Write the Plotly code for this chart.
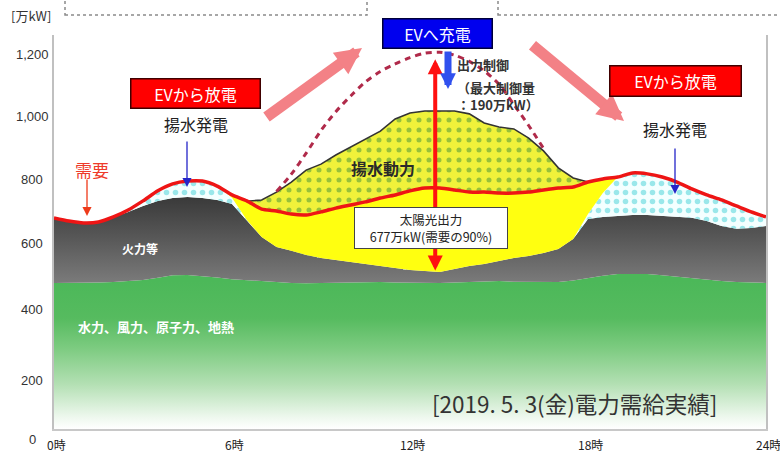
import plotly.graph_objects as go

# ---- data (万kW), half-hourly 0:00 - 24:00 ----
hours = [h / 2 for h in range(49)]

base = [465, 465, 465, 466, 468, 471, 474, 481, 489, 490, 487, 482, 477, 474,
        471, 467, 465, 464, 465, 466, 468, 468, 468, 466, 465, 464, 465, 466,
        468, 470, 471, 469, 468, 467, 468, 473, 481, 488, 493, 494, 493, 489,
        484, 479, 474, 471, 468, 466, 465]

thermal = [207, 197, 191, 193, 207, 220, 236, 245, 246, 248, 248, 247, 239, 191,
           140, 112, 102, 90, 79, 72, 64, 57, 51, 46, 41, 39, 35, 43,
           51, 55, 64, 75, 83, 93, 105, 132, 187, 187, 185, 187, 188, 189,
           191, 193, 188, 175, 169, 174, 181]

pumped_gen = [0, 0, 0, 0, 0, 6, 16, 32, 45, 51, 54, 45, 20, 0,
              0, 0, 0, 0, 0, 0, 0, 0, 0, 0, 0, 0, 0, 0,
              0, 0, 0, 0, 0, 0, 0, 0, 16, 76, 124, 134, 131, 124,
              111, 92, 83, 83, 73, 51, 29]

solar = [0, 0, 0, 0, 0, 0, 0, 0, 0, 0, 0, 0, 9, 60,
         118, 175, 219, 270, 299, 334, 365, 398, 429, 475, 500, 509, 512, 503,
         484, 449, 426, 411, 375, 325, 258, 194, 102, 45, 0, 0, 0, 0,
         0, 0, 0, 0, 0, 0, 0]

curtailment = [0, 0, 0, 0, 0, 0, 0, 0, 0, 0, 0, 0, 0, 0,
               0, 2, 25, 54, 107, 138, 163, 182, 190, 175, 176, 184, 187, 178,
               167, 166, 136, 78, 40, 8, 0, 0, 0, 0, 0, 0, 0, 0,
               0, 0, 0, 0, 0, 0, 0]

demand = [672, 662, 656, 659, 675, 697, 726, 758, 780, 789, 789, 773, 745, 726,
          700, 694, 684, 681, 691, 703, 713, 723, 735, 745, 758, 767, 767, 761,
          754, 754, 751, 751, 754, 761, 767, 770, 786, 796, 802, 815, 812, 802,
          786, 764, 745, 729, 710, 691, 675]

x_ticks = [0, 6, 12, 18, 24]
x_labels = ["0時", "6時", "12時", "18時", "24時"]
y_ticks = [0, 200, 400, 600, 800, 1000, 1200]
y_labels = ["0", "200", "400", "600", "800", "1,000", "1,200"]

solar_peak_output = 677      # 太陽光出力 (万kW)
solar_peak_hour = 12.85

# ---- stacked boundaries ----
top_base = base
top_thermal = [b + t for b, t in zip(base, thermal)]
top_pumpgen = [a + p for a, p in zip(top_thermal, pumped_gen)]
top_supply = [a + s for a, s in zip(top_pumpgen, solar)]
pump_top = [max(s, d) for s, d in zip(top_supply, demand)]
potential = [s + c if c > 0 else None for s, c in zip(top_supply, curtailment)]
surplus = [s - d > 2 for s, d in zip(top_supply, demand)]
n = len(hours)
outline = [s if (surplus[i] or (i > 0 and surplus[i - 1]) or (i < n - 1 and surplus[i + 1])) else None
           for i, s in enumerate(top_supply)]

JP = "Noto Sans CJK JP"
W, H = 780, 454
L, R, T, B = 54, 14, 35, 25
PW, PH = W - L - R, H - T - B


def px(x):
    return (x - L) / PW


def py(y):
    return (H - B - y) / PH


fig = go.Figure()

# 水力、風力、原子力、地熱
fig.add_trace(go.Scatter(
    x=hours, y=top_base, mode="lines", line=dict(width=0), fill="tozeroy",
    fillgradient=dict(type="vertical", start=0, stop=470,
                      colorscale=[[0, "#ffffff"], [0.08, "#eef8ee"], [0.3, "#b4e0b4"],
                                  [0.55, "#7ccb80"], [0.75, "#56bb5f"], [1, "#4cb859"]]),
    hoverinfo="skip"))

# 火力等
fig.add_trace(go.Scatter(
    x=hours, y=top_thermal, mode="lines", line=dict(width=0), fill="tonexty",
    fillgradient=dict(type="vertical", start=460, stop=745,
                      colorscale=[[0, "#7c7c7c"], [0.5, "#595959"], [1, "#383838"]]),
    hoverinfo="skip"))

# 揚水発電
fig.add_trace(go.Scatter(
    x=hours, y=top_pumpgen, mode="lines", line=dict(width=0), fill="tonexty",
    fillpattern=dict(shape=".", fgcolor="#3fcfd6", bgcolor="#f4ffff", size=9, solidity=0.3),
    hoverinfo="skip"))

# 太陽光
fig.add_trace(go.Scatter(
    x=hours, y=top_supply, mode="lines", line=dict(width=0), fill="tonexty",
    fillcolor="#ffff10", hoverinfo="skip"))

# 揚水動力 (surplus above demand)
fig.add_trace(go.Scatter(
    x=hours, y=demand, mode="lines", line=dict(width=0), hoverinfo="skip"))
fig.add_trace(go.Scatter(
    x=hours, y=pump_top, mode="lines", line=dict(width=0), fill="tonexty",
    fillpattern=dict(shape=".", fgcolor="#3d8f3a", bgcolor="#f0f23a", size=10, solidity=0.2),
    hoverinfo="skip"))
fig.add_trace(go.Scatter(
    x=hours, y=outline, mode="lines", line=dict(width=1.6, color="#333333"),
    connectgaps=False, hoverinfo="skip"))

# potential solar output before curtailment
fig.add_trace(go.Scatter(
    x=hours, y=potential, mode="lines",
    line=dict(width=3, color="#b02a4a", dash="6px,5px", shape="spline", smoothing=0.8),
    connectgaps=False, hoverinfo="skip"))

# 需要
fig.add_trace(go.Scatter(
    x=hours, y=demand, mode="lines",
    line=dict(width=3.5, color="#ee1515", shape="spline", smoothing=0.6),
    hoverinfo="skip"))

ann = []
shapes = []


def text(x, y, s, size=14, color="#222222", xanchor="center", family=JP, **kw):
    ann.append(dict(x=px(x), y=py(y), xref="paper", yref="paper", text=s, showarrow=False,
                    xanchor=xanchor, yanchor="middle",
                    font=dict(size=size, color=color, family=family), **kw))


def arrow(x0, y0, x1, y1, color, width, head=2, size=1.0):
    ann.append(dict(x=px(x1), y=py(y1), xref="paper", yref="paper", text="",
                    showarrow=True, ax=x0 - x1, ay=y0 - y1, arrowhead=head,
                    arrowsize=size, arrowwidth=width, arrowcolor=color))


# y tick labels, centred in the left margin
label_shift = {0: -10, 200: -14, 400: -6, 600: -3, 800: -2, 1000: -2, 1200: -3}
for v, s in zip(y_ticks, y_labels):
    ann.append(dict(x=px(32), y=v, xref="paper", yref="y", text=s, showarrow=False,
                    xanchor="center", yanchor="middle", yshift=label_shift[v],
                    font=dict(size=13, color="#333333", family="Liberation Sans")))

# x tick labels below the axis
for v, s in zip(x_ticks, x_labels):
    ann.append(dict(x=v, y=py(445), xref="x", yref="paper", text=s, showarrow=False,
                    xanchor="center", yanchor="middle", xshift=2,
                    font=dict(size=12, color="#222222", family=JP)))

# dotted header boxes
for x0, x1 in [(65, 367), (498, 800)]:
    shapes.append(dict(type="rect", xref="paper", yref="paper",
                       x0=px(x0), x1=px(x1), y0=py(15), y1=py(-20),
                       line=dict(color="#8a8a8a", width=1.5, dash="dot")))

# big pink arrows
arrow(265, 118, 362, 48, "rgba(242,112,118,0.88)", 11, head=2, size=0.48)
arrow(531, 44, 624, 121, "rgba(242,112,118,0.88)", 11, head=2, size=0.48)

# solar output double arrow (red)
ann.append(dict(x=solar_peak_hour, y=top_thermal[26] + solar_peak_output,
                ax=solar_peak_hour, ay=top_thermal[26],
                xref="x", yref="y", axref="x", ayref="y", text="", showarrow=True,
                arrowside="end+start", arrowhead=2, startarrowhead=2,
                arrowsize=0.75, startarrowsize=0.75, arrowwidth=4, arrowcolor="#ff1010"))

# curtailment arrow (blue)
arrow(448, 50, 448, 89, "#3050ee", 7, head=2, size=0.45)

# thin pointer arrows
arrow(187, 140, 187, 187, "#2525c8", 1.3, head=2, size=1.4)
arrow(675, 147, 675, 194, "#2525c8", 1.3, head=2, size=1.4)
arrow(87, 178, 87, 216, "#ee3a1a", 1.3, head=2, size=1.4)


# labelled boxes
def box(cx, cy, w, h, s, bg, border, size, color):
    ann.append(dict(x=px(cx), y=py(cy), xref="paper", yref="paper", text=s, showarrow=False,
                    xanchor="center", yanchor="middle", width=w, height=h, borderpad=0,
                    bgcolor=bg, bordercolor=border, borderwidth=1.5,
                    font=dict(size=size, color=color, family=JP)))


box(437.5, 33.5, 108, 28, "EVへ充電", "#0000ee", "#00003a", 16, "#ffffff")
box(195.5, 93.5, 128, 28, "EVから放電", "#ff0000", "#400000", 16, "#ffffff")
box(675.5, 81, 130, 29, "EVから放電", "#ff0000", "#400000", 16, "#ffffff")
ann.append(dict(x=px(431), y=py(228), xref="paper", yref="paper",
                text="太陽光出力<br>677万kW(需要の90%)", showarrow=False,
                xanchor="center", yanchor="middle", width=152, height=40, borderpad=0,
                bgcolor="#ffffff", bordercolor="#444444", borderwidth=1,
                font=dict(size=12.5, color="#222222", family=JP)))

text(31, 16, "[万kW]", size=13, color="#333333")
text(196, 124, "揚水発電", size=16)
text(675, 129, "揚水発電", size=16)
text(92, 169, "需要", size=17, color="#ee3a2a")
text(383, 168, "<b>揚水動力</b>", size=16, color="#2a2a2a")
text(455, 64, "<b>出力制御</b>", size=13, color="#333333", xanchor="left")
text(455, 96, "<b>（最大制御量<br>：190万kW）</b>", size=13, color="#333333",
     xanchor="left", align="left")
text(140, 249, "<b>火力等</b>", size=12, color="#ffffff")
text(156, 326, "<b>水力、風力、原子力、地熱</b>", size=13, color="#ffffff")
text(574, 403, "[2019. 5. 3(金)電力需給実績]", size=22.5, color="#333333")

fig.update_layout(
    width=W, height=H, margin=dict(l=L, r=R, t=T, b=B),
    paper_bgcolor="#ffffff", plot_bgcolor="#ffffff", showlegend=False,
    annotations=ann, shapes=shapes,
    xaxis=dict(range=[0, 24], tickvals=x_ticks, showticklabels=False, showgrid=False,
               zeroline=False, showline=True, linecolor="#c8c8c8", linewidth=2, ticks=""),
    yaxis=dict(range=[0, 1254], tickvals=y_ticks, showticklabels=False, showgrid=False,
               zeroline=False, showline=True, mirror=True, linecolor="#c0c0c0", linewidth=2,
               ticks=""),
)

fig.write_html("out.html")
